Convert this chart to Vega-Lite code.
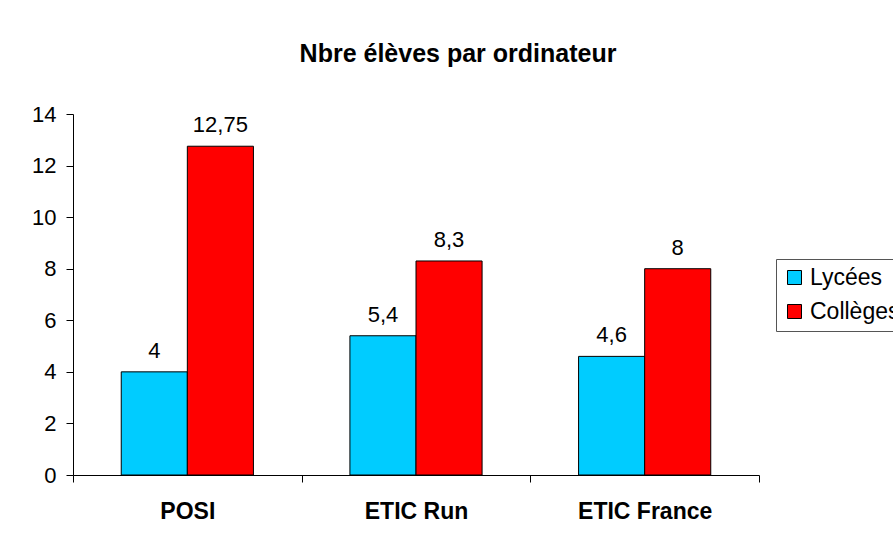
{
  "$schema": "https://vega.github.io/schema/vega-lite/v6.json",
  "width": 686,
  "height": 361,
  "autosize": {"type": "none"},
  "padding": {"left": 73, "top": 114, "right": 134, "bottom": 63},
  "background": "white",
  "title": {
    "text": "Nbre élèves par ordinateur",
    "fontSize": 25,
    "fontWeight": "bold",
    "font": "Liberation Sans",
    "color": "black",
    "anchor": "middle",
    "frame": "group",
    "dx": 42,
    "offset": 36
  },
  "data": {
    "values": [
      {"cat": "POSI", "type": "Lycées", "value": 4},
      {"cat": "POSI", "type": "Collèges", "value": 12.75},
      {"cat": "ETIC Run", "type": "Lycées", "value": 5.4},
      {"cat": "ETIC Run", "type": "Collèges", "value": 8.3},
      {"cat": "ETIC France", "type": "Lycées", "value": 4.6},
      {"cat": "ETIC France", "type": "Collèges", "value": 8}
    ]
  },
  "encoding": {
    "x": {
      "field": "cat",
      "type": "nominal",
      "sort": ["POSI", "ETIC Run", "ETIC France"],
      "scale": {"paddingInner": 0, "paddingOuter": 0},
      "axis": {
        "title": null,
        "labelAngle": 0,
        "labelFontWeight": "bold",
        "labelFontSize": 23,
        "labelFont": "Liberation Sans",
        "labelColor": "black",
        "labelPadding": 18,
        "tickBand": "extent",
        "tickSize": 7,
        "tickColor": "black",
        "domainColor": "black"
      }
    },
    "xOffset": {
      "field": "type",
      "type": "nominal",
      "sort": ["Lycées", "Collèges"],
      "scale": {"paddingInner": 0, "paddingOuter": 0.73}
    },
    "y": {
      "field": "value",
      "type": "quantitative",
      "scale": {"domain": [0, 14], "nice": false},
      "axis": {
        "title": null,
        "grid": false,
        "values": [0, 2, 4, 6, 8, 10, 12, 14],
        "labelFontSize": 22,
        "labelFont": "Liberation Sans",
        "labelColor": "black",
        "labelPadding": 10,
        "tickSize": 7,
        "tickColor": "black",
        "domainColor": "black"
      }
    }
  },
  "layer": [
    {
      "mark": {"type": "bar", "stroke": "black", "strokeWidth": 1},
      "encoding": {
        "color": {
          "field": "type",
          "type": "nominal",
          "sort": ["Lycées", "Collèges"],
          "scale": {"domain": ["Lycées", "Collèges"], "range": ["#00CCFF", "#FF0000"]},
          "legend": {
            "title": null,
            "orient": "none",
            "legendX": 703,
            "legendY": 145,
            "strokeColor": "#555555",
            "padding": 7,
            "symbolType": "square",
            "symbolSize": 196,
            "symbolStrokeColor": "black",
            "symbolStrokeWidth": 1,
            "labelFontSize": 23,
            "labelFont": "Liberation Sans",
            "labelColor": "black",
            "rowPadding": 10,
            "labelOffset": 4
          }
        }
      }
    },
    {
      "mark": {"type": "text", "baseline": "alphabetic", "dy": -14, "fontSize": 22, "font": "Liberation Sans", "color": "black"},
      "encoding": {
        "text": {"field": "value", "type": "quantitative", "format": "~g"}
      }
    }
  ],
  "config": {
    "view": {"stroke": null},
    "locale": {
      "number": {"decimal": ",", "thousands": " ", "grouping": [3], "currency": ["", " €"]}
    }
  }
}
